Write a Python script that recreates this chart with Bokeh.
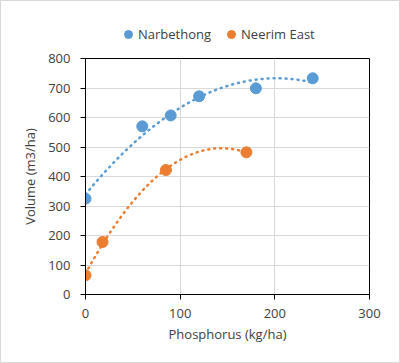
import numpy as np
from bokeh.plotting import figure
from bokeh.layouts import column
from bokeh.models import Range1d, FixedTicker, Legend, LegendItem
from bokeh.embed import file_html
from bokeh.resources import INLINE

# Data
narb_x = [0, 60, 90, 120, 180, 240]
narb_y = [325, 570, 607, 672, 699, 733]
neer_x = [0, 18, 85, 170]
neer_y = [65, 178, 422, 482]
x_ticks = [0, 100, 200, 300]
y_ticks = [0, 100, 200, 300, 400, 500, 600, 700, 800]
series_names = ["Narbethong", "Neerim East"]

BLUE = "#5B9BD5"
ORANGE = "#ED7D31"
TXT = "#404040"
FONT = "Open Sans"

# ---- legend strip (its own series renderers sit outside its view) ----
lg = figure(width=398, height=45, output_backend="svg", toolbar_location=None,
            x_range=Range1d(0, 1), y_range=Range1d(0, 1),
            min_border_left=84, min_border_right=30, min_border_top=0, min_border_bottom=0)
lg.axis.visible = False
lg.grid.visible = False
lg.outline_line_color = None
lg.background_fill_color = "white"
lg.border_fill_color = "white"
d1 = lg.scatter(narb_x, narb_y, marker="circle", fill_color=BLUE, line_color=BLUE)
d2 = lg.scatter(neer_x, neer_y, marker="circle", fill_color=ORANGE, line_color=ORANGE)
legend = Legend(items=[LegendItem(label=series_names[0], renderers=[d1]),
                       LegendItem(label=series_names[1], renderers=[d2])],
                orientation="horizontal", location=(33, 1),
                label_text_font=FONT, label_text_font_size="13px", label_text_color=TXT,
                glyph_width=20, glyph_height=22, label_standoff=0, spacing=10,
                padding=0, margin=0, border_line_color=None, background_fill_alpha=0)
lg.add_layout(legend, "center")

# ---- main chart ----
p = figure(width=398, height=316, output_backend="svg", toolbar_location=None,
           x_range=Range1d(0, 300), y_range=Range1d(0, 800),
           min_border_left=84, min_border_right=30, min_border_top=12, min_border_bottom=68)

p.outline_line_color = "black"
p.outline_line_width = 1
p.background_fill_color = "white"
p.border_fill_color = "white"

for ax in (p.xaxis, p.yaxis):
    ax.axis_line_color = "black"
    ax.axis_line_width = 1
    ax.major_tick_line_color = "black"
    ax.major_tick_line_width = 1
    ax.major_tick_out = 5
    ax.major_tick_in = 0
    ax.minor_tick_line_color = None
    ax.major_label_text_font = FONT
    ax.major_label_text_font_size = "13px"
    ax.major_label_text_color = TXT
    ax.axis_label_text_font = FONT
    ax.axis_label_text_font_size = "13px"
    ax.axis_label_text_color = TXT
    ax.axis_label_text_font_style = "normal"

p.xaxis.ticker = FixedTicker(ticks=x_ticks)
p.yaxis.ticker = FixedTicker(ticks=y_ticks)
p.xaxis.major_label_standoff = 9
p.yaxis.major_label_standoff = 10
p.xaxis.axis_label = "Phosphorus (kg/ha)"
p.yaxis.axis_label = "Volume (m3/ha)"
p.xaxis.axis_label_standoff = 4
p.yaxis.axis_label_standoff = 6

p.xgrid.grid_line_color = "#D9D9D9"
p.ygrid.grid_line_color = "#D9D9D9"
p.xgrid.ticker = FixedTicker(ticks=x_ticks)
p.ygrid.ticker = FixedTicker(ticks=y_ticks)

# Polynomial (order 2) trendlines fitted to the data
for xs, ys, col in ((narb_x, narb_y, BLUE), (neer_x, neer_y, ORANGE)):
    c = np.polyfit(xs, ys, 2)
    xx = np.linspace(min(xs), max(xs), 200)
    p.line(xx, np.polyval(c, xx), line_color=col, line_width=2.5,
           line_dash="1 5", line_cap="round")

p.scatter(narb_x, narb_y, size=11, marker="circle", fill_color=BLUE, line_color=BLUE)
p.scatter(neer_x, neer_y, size=11, marker="circle", fill_color=ORANGE, line_color=ORANGE)

layout = column(lg, p, spacing=0, styles={"border": "1px solid #D9D9D9"})
open("out.html", "w").write(file_html(layout, INLINE))
